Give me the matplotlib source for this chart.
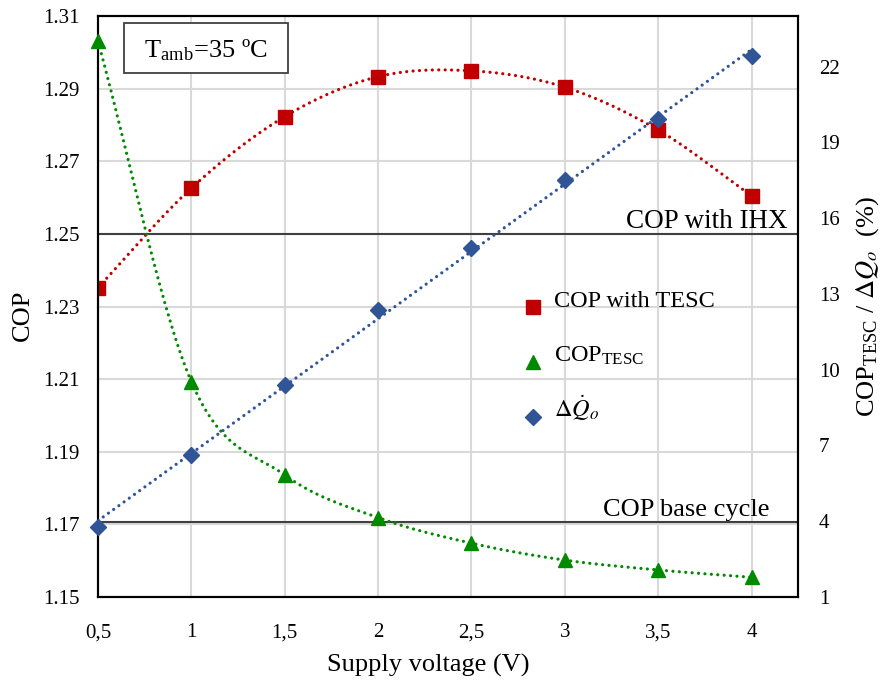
import numpy as np
import matplotlib
matplotlib.use("Agg")
import matplotlib.pyplot as plt
from matplotlib.patches import Rectangle

plt.rcParams['font.family'] = ['Liberation Serif', 'DejaVu Serif']
plt.rcParams['mathtext.fontset'] = 'stix'

# Supply voltage (V)
voltage = [0.5, 1.0, 1.5, 2.0, 2.5, 3.0, 3.5, 4.0]
voltage_labels = ["0,5", "1", "1,5", "2", "2,5", "3", "3,5", "4"]

# left axis: COP of the cycle with the thermoelectric subcooler
cop_tesc_cycle = [1.2352, 1.2626, 1.2823, 1.2933, 1.2949, 1.2904, 1.2786, 1.2605]

# right axis (%): COP of the TESC itself and cooling capacity gain
cop_tesc = [23.0, 9.52, 5.83, 4.14, 3.13, 2.46, 2.07, 1.78]
dq_o = [3.76, 6.62, 9.40, 12.36, 14.80, 17.51, 19.91, 22.42]

# reference cycles
cop_ihx = 1.25
cop_base = 1.1707

cop_ticks = [1.15, 1.17, 1.19, 1.21, 1.23, 1.25, 1.27, 1.29, 1.31]
pct_ticks = [1, 4, 7, 10, 13, 16, 19, 22]

RED = "#C00000"
GREEN = "#008A00"
BLUE = "#2F5597"
GRID = "#D9D9D9"


def smooth(x, y, n=30):
    """Catmull-Rom style smoothed line through the points (like a spreadsheet smooth line)."""
    x = np.asarray(x, float)
    y = np.asarray(y, float)
    px = np.concatenate([[2 * x[0] - x[1]], x, [2 * x[-1] - x[-2]]])
    py = np.concatenate([[2 * y[0] - y[1]], y, [2 * y[-1] - y[-2]]])
    xs, ys = [], []
    t = np.linspace(0, 1, n)
    for i in range(1, len(px) - 2):
        p0, p1, p2, p3 = [np.array([px[j], py[j]]) for j in range(i - 1, i + 3)]
        c1 = p1 + (p2 - p0) / 6
        c2 = p2 - (p3 - p1) / 6
        b = ((1 - t) ** 3)[:, None] * p1 + (3 * (1 - t) ** 2 * t)[:, None] * c1 \
            + (3 * (1 - t) * t ** 2)[:, None] * c2 + (t ** 3)[:, None] * p2
        xs.extend(b[:, 0])
        ys.extend(b[:, 1])
    return np.array(xs), np.array(ys)


fig = plt.figure(figsize=(8.83, 6.84), dpi=100)
ax = fig.add_axes([0.111, 0.1272, 0.793, 0.8494])
ax2 = ax.twinx()

ax.set_xlim(0.5, 4.25)
ax.set_ylim(1.15, 1.31)
ax2.set_ylim(1, 24)

ax.set_xticks(voltage)
ax.set_xticklabels(voltage_labels)
ax.set_yticks(cop_ticks)
ax.set_yticklabels([f"{v:.2f}" for v in cop_ticks])
ax2.set_yticks(pct_ticks)

ax.grid(True, color=GRID, lw=1.5)
ax.set_axisbelow(True)
for a in (ax, ax2):
    a.tick_params(length=0, labelsize=15, pad=13)
    for s in a.spines.values():
        s.set_linewidth(1.5)
        s.set_color("black")
ax2.tick_params(pad=15)
ax.tick_params(axis='x', pad=19)

# reference lines
ax.axhline(cop_ihx, color="#404040", lw=1.5, zorder=2)
ax.axhline(cop_base, color="#404040", lw=1.5, zorder=2)
ax.text(4.194, 1.2517, "COP with IHX", ha="right", va="baseline", fontsize=19.5)
ax.text(4.097, 1.1724, "COP base cycle", ha="right", va="baseline", fontsize=19)

dot = dict(lw=2.3, linestyle=(0, (0.01, 2.0)), dash_capstyle="round")

# COP with TESC
sx, sy = smooth(voltage, cop_tesc_cycle)
ax.plot(sx, sy, color=RED, zorder=3, **dot)
ax.plot(voltage, cop_tesc_cycle, ls="none", marker="s", ms=10, color=RED, zorder=4)

# COP of the TESC
gx, gy = smooth(voltage, cop_tesc)
ax2.plot(gx, gy, color=GREEN, zorder=3, **dot)
ax2.plot(voltage, cop_tesc, ls="none", marker="^", ms=10.5, color=GREEN, zorder=4,
         clip_on=False)

# capacity increase, linear trend
k, b0 = np.polyfit(voltage, dq_o, 1)
xv = np.array([voltage[0], voltage[-1]])
ax2.plot(xv, k * xv + b0, color=BLUE, zorder=3, **dot)
ax2.plot(voltage, dq_o, ls="none", marker="D", ms=8, color=BLUE, zorder=4, clip_on=False)

# legend entries, text baseline level with the marker centre
legend_items = [
    ("s", 10, RED, "COP with TESC", 0.4991),
    ("^", 10.5, GREEN, r"COP$_{\mathregular{TESC}}$", 0.4045),
    ("D", 8, BLUE, r"$\Delta\dot{Q}_o$", 0.3098),
]
for mk, ms, col, lab, yy in legend_items:
    ax2.plot([0.6214], [yy], ls="none", marker=mk, ms=ms, color=col,
             transform=ax.transAxes, clip_on=False, zorder=5)
    ax2.text(0.6514, yy, lab, transform=ax.transAxes, ha="left", va="baseline",
             fontsize=17.5)

ax.set_xlabel("Supply voltage (V)", fontsize=19, labelpad=8)
ax.xaxis.label.set_x(0.471)
ax.set_ylabel("COP", fontsize=19, labelpad=7)
ax.yaxis.label.set_y(0.484)
ax2.set_ylabel(r"COP$_{\mathregular{TESC}}$ / $\Delta Q_o$  (%)", fontsize=19, labelpad=10)

# ambient temperature box
ax.add_patch(Rectangle((0.0371, 0.9019), 0.2343, 0.0861, transform=ax.transAxes,
                       fc="white", ec="#404040", lw=1.3, zorder=6))
ax.text(0.1543, 0.9289, r"T$_{\mathregular{amb}}$=35 ºC", transform=ax.transAxes,
        ha="center", va="baseline", fontsize=19, zorder=7)

fig.savefig("out.png", dpi=100)
